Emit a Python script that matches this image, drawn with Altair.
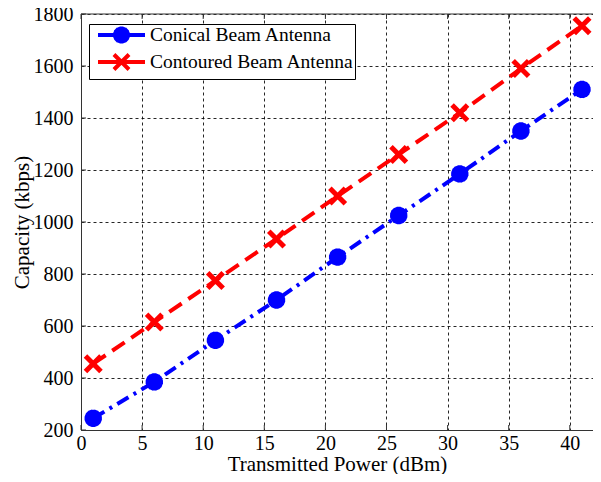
import altair as alt
import pandas as pd

# ---- data ----
power = [1, 6, 11, 16, 21, 26, 31, 36, 41]
conical = [245, 385, 545, 700, 865, 1025, 1185, 1350, 1510]
contoured = [455, 615, 775, 935, 1100, 1260, 1420, 1590, 1755]
series_names = ["Conical Beam Antenna", "Contoured Beam Antenna"]
series_colors = ["#0000FF", "#FF0000"]
x_ticks = [0, 5, 10, 15, 20, 25, 30, 35, 40]
y_ticks = [200, 400, 600, 800, 1000, 1200, 1400, 1600, 1800]

df = pd.DataFrame({
    "power": power * 2,
    "capacity": conical + contoured,
    "series": [series_names[0]] * len(power) + [series_names[1]] * len(power),
})
ticks_x = pd.DataFrame({"t": x_ticks})
ticks_y = pd.DataFrame({"t": y_ticks})

# ---- marker shapes ----
def seg_path(segs, s=1.0, dx=0.0):
    return "".join(f"M{a*s+dx:.3f},{b*s:.3f}L{c*s+dx:.3f},{d*s:.3f}" for (a, b, c, d) in segs)

AST_SEGS = [(0, -1, 0, 1), (-1, 0, 1, 0), (-0.71, -0.71, 0.71, 0.71), (-0.71, 0.71, 0.71, -0.71),
            (-0.38, -0.92, 0.38, 0.92), (-0.92, -0.38, 0.92, 0.38), (-0.92, 0.38, 0.92, -0.38),
            (-0.38, 0.92, 0.38, -0.92)]
X_SEGS = [(-1, -1, 1, 1), (-1, 1, 1, -1)]
ASTER = seg_path(AST_SEGS)
XSHAPE = seg_path(X_SEGS)
# legend symbols (unit = 8 px): line sample + marker, shifted right
LEG_AST = "M-0.25,0L5.625,0" + seg_path(AST_SEGS, 1.06, 2.685)
LEG_X = "M-0.25,0L5.625,0" + seg_path(X_SEGS, 0.94, 2.685)

xs = alt.Scale(domain=[0, 41.9], nice=False, zero=False)
ys = alt.Scale(domain=[200, 1800], nice=False, zero=False)

X = alt.X("power:Q", scale=xs, title="Transmitted Power (dBm)",
          axis=alt.Axis(values=x_ticks, grid=True, format="d", labelFlush=False))
Y = alt.Y("capacity:Q", scale=ys, title="Capacity (kbps)",
          axis=alt.Axis(values=y_ticks, grid=True, format="d", labelFlush=False))

base = alt.Chart(df)

blue_line = base.transform_filter(alt.datum.series == series_names[0]).mark_line(
    color=series_colors[0], strokeWidth=4, strokeDash=[13, 6, 3, 6], strokeCap="butt"
).encode(x=X, y=Y)
red_line = base.transform_filter(alt.datum.series == series_names[1]).mark_line(
    color=series_colors[1], strokeWidth=4, strokeDash=[15, 8], strokeCap="butt"
).encode(x=X, y=Y)

blue_pts = base.transform_filter(alt.datum.series == series_names[0]).mark_point(
    shape=ASTER, filled=False, stroke=series_colors[0], strokeWidth=4, size=300, opacity=1
).encode(x=X, y=Y)
red_pts = base.transform_filter(alt.datum.series == series_names[1]).mark_point(
    shape=XSHAPE, filled=False, stroke=series_colors[1], strokeWidth=5, size=240, opacity=1
).encode(x=X, y=Y)

leg = dict(title=None, orient="none", legendX=8, legendY=10,
           symbolSize=256, symbolStrokeWidth=4,
           labelFont="Liberation Serif", labelFontSize=19.5,
           labelColor="black", labelOffset=40,
           strokeColor="black", fillColor="white",
           padding=1, rowPadding=-7, labelLimit=400)

legend_layer = base.transform_filter("false").mark_point(filled=False, strokeWidth=4, opacity=1).encode(
    x=X, y=Y,
    color=alt.Color("series:N", scale=alt.Scale(domain=series_names, range=series_colors),
                    legend=alt.Legend(**leg)),
    shape=alt.Shape("series:N", scale=alt.Scale(domain=series_names, range=[LEG_AST, LEG_X]),
                    legend=alt.Legend(**leg)),
)

top_border = alt.Chart(ticks_y).transform_filter(alt.datum.t == 1800).mark_rule(
    color="#333333", strokeWidth=1).encode(y=alt.Y("t:Q", scale=ys))
tick_bottom = alt.Chart(ticks_x).mark_rule(color="#333333", strokeWidth=1).encode(
    x=alt.X("t:Q", scale=xs), y=alt.value(416), y2=alt.value(411))
tick_top = alt.Chart(ticks_x).mark_rule(color="#333333", strokeWidth=1).encode(
    x=alt.X("t:Q", scale=xs), y=alt.value(0), y2=alt.value(5))
tick_left = alt.Chart(ticks_y).mark_rule(color="#333333", strokeWidth=1).encode(
    y=alt.Y("t:Q", scale=ys), x=alt.value(0), x2=alt.value(5))

chart = alt.layer(
    top_border, tick_bottom, tick_top, tick_left,
    blue_line, red_line, blue_pts, red_pts, legend_layer
).properties(
    width=512, height=416,
    autosize=alt.AutoSizeParams(type="none"),
    padding={"left": 73, "top": 6, "right": 0, "bottom": 44},
).configure_view(stroke=None).configure_axis(
    labelFont="Liberation Serif", titleFont="Liberation Serif",
    labelFontSize=20, titleFontSize=21, labelColor="black", titleColor="black",
    titleFontWeight="normal", domain=True, domainColor="#333333", domainWidth=1,
    ticks=False, gridColor="black", gridDash=[3, 3], gridWidth=1, gridOpacity=0.85,
).configure_axisX(labelPadding=3, titlePadding=0).configure_axisY(
    labelPadding=8, titlePadding=1)

chart.save("out.html", embed_options={"renderer": "svg", "actions": False})
